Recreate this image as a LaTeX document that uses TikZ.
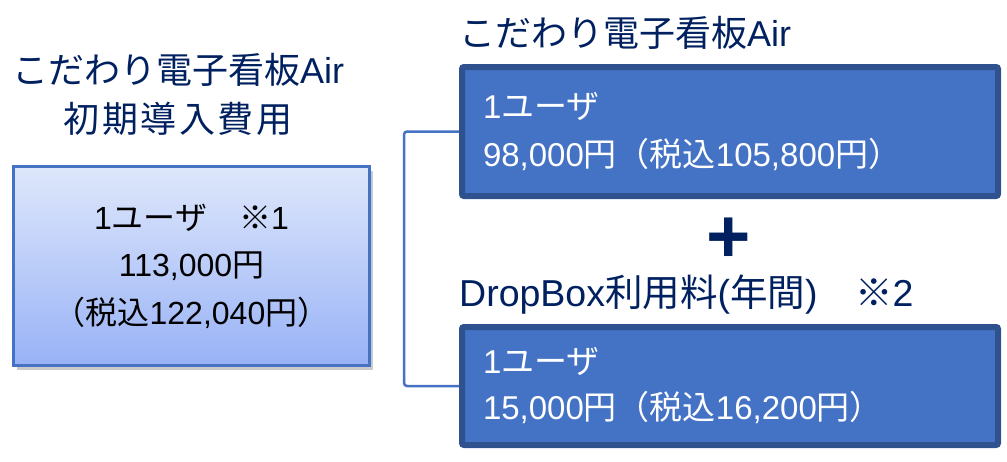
\documentclass[tikz,border=0pt]{standalone}
\usepackage{fontspec}
\setmainfont{Noto Sans CJK JP}
\newfontfamily\latinfont{Liberation Sans}
\newcommand{\lat}[1]{{\latinfont #1}}
\usepackage{tikz}
\usetikzlibrary{positioning, shadows, calc}
\definecolor{titlenavy}{RGB}{0,32,96}
\definecolor{priceblue}{RGB}{68,114,196}
\definecolor{priceedge}{RGB}{47,82,143}
\definecolor{gradtop}{RGB}{222,231,251}
\definecolor{gradbottom}{RGB}{152,178,246}

\begin{document}
\begin{tikzpicture}[
    x=1pt, y=-1pt,
    title/.style={font=\fontsize{36}{49}\selectfont, text=titlenavy, inner sep=0pt},
    pricebox/.style={rectangle, draw=priceedge, line width=6pt, fill=priceblue, rounded corners=2pt, minimum width=536pt, text width=494pt, inner xsep=21pt, align=left, text=white},
    totalbox/.style={rectangle, draw=priceblue, line width=2.7pt, top color=gradtop, bottom color=gradbottom, minimum width=356pt, minimum height=199pt, align=center, drop shadow={shadow xshift=3pt, shadow yshift=-4pt, opacity=0.35, fill=black!60}, font=\fontsize{32}{47.5}\selectfont},
    bracket/.style={draw=priceblue, line width=2.5pt, rounded corners=3pt}
]
\useasboundingbox (0,0) rectangle (1007,461);

% left: total initial cost
\node[title, align=center] (costtitle) at (178,94.5) {こだわり電子看板\lat{Air}\\{\addfontfeature{LetterSpace=7}初期導入費用}};
\node[totalbox] (total) at (191.5,266) {\lat{1}ユーザ　※\lat{1}\\\lat{113,000}円\\（税込\lat{122,040}円）};

% right: breakdown
\node[title, anchor=west] (airlabel) at (459,33) {こだわり電子看板\lat{Air}};
\node[pricebox, minimum height=129pt, font=\fontsize{33}{48}\selectfont] (airprice) at (730,131.5) {\lat{1}ユーザ\\\lat{98,000}円（税込\lat{105,800}円）};

\node[font=\fontsize{76}{76}\selectfont\latinfont\bfseries, text=titlenavy, inner sep=0pt] (plus) at (729,240) {+};

\node[title, anchor=west, font=\fontsize{37.5}{49}\selectfont] (dropboxlabel) at (459,295) {\lat{DropBox}利用料\lat{(}年間\lat{)}　※\lat{2}};
\node[pricebox, minimum height=118pt, font=\fontsize{33}{46}\selectfont] (dropboxprice) at (730,386) {\lat{1}ユーザ\\\lat{15,000}円（税込\lat{16,200}円）};

\draw[bracket] (airprice.west) -- ++(-55,0) |- (dropboxprice.west);

\end{tikzpicture}
\end{document}
